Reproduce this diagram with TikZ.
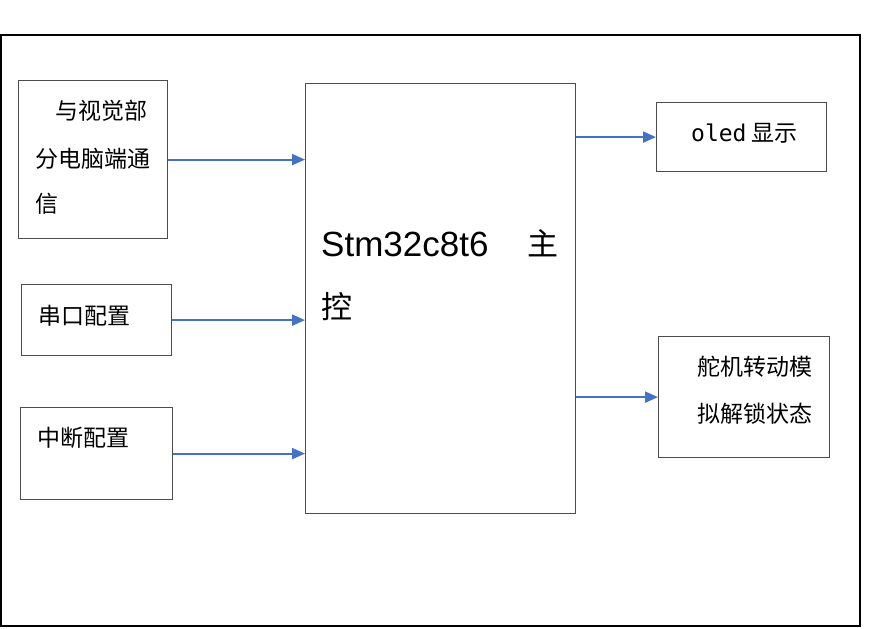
\documentclass[tikz,border=0pt]{standalone}
\usepackage{fontspec}
\setmainfont{Liberation Sans}
\newfontfamily\cjk{Noto Sans CJK SC}
\newfontfamily\mono{DejaVu Sans Mono}
\usetikzlibrary{arrows.meta}
\definecolor{linkblue}{RGB}{68,114,196}

\begin{document}
\begin{tikzpicture}[x=1pt, y=-1pt,
    blk/.style={draw=black!70, line width=1.2pt, inner sep=0pt, anchor=north west},
    txt/.style={anchor=west, inner sep=0pt, font=\cjk\fontsize{23}{23}\selectfont},
    link/.style={draw=linkblue, line width=2pt, -{Triangle[length=13pt,width=11pt]}}]
  \useasboundingbox (0,0) rectangle (886,629);
  \draw[line width=2pt] (1,35) rectangle (860,626);

  % blocks
  \node[blk, minimum width=149pt, minimum height=158pt] (vision) at (18,80) {};
  \node[blk, minimum width=150pt, minimum height=71pt] (uart) at (21,284) {};
  \node[blk, minimum width=152pt, minimum height=92pt] (irq) at (20,407) {};
  \node[blk, minimum width=270pt, minimum height=430pt] (mcu) at (305,83) {};
  \node[blk, minimum width=170pt, minimum height=69pt] (oled) at (656,102) {};
  \node[blk, minimum width=171pt, minimum height=121pt] (servo) at (658,336) {};

  % texts
  \node[txt] (vision1) at (55,111) {与视觉部};
  \node[txt] (vision2) at (35,159) {分电脑端通};
  \node[txt] (vision3) at (35,204) {信};
  \node[txt] (uartt) at (38,316) {串口配置};
  \node[txt] (irqt) at (37,438) {中断配置};
  \node[anchor=west, inner sep=0pt, font=\fontsize{35}{35}\selectfont] (mcu1) at (321,244) {Stm32c8t6};
  \node[txt, font=\cjk\fontsize{31}{31}\selectfont] (mcu2) at (527,243) {主};
  \node[txt, font=\cjk\fontsize{31}{31}\selectfont] (mcu3) at (321,307) {控};
  \node[txt] (oledt) at (691,133) {{\mono oled} 显示};
  \node[txt] (servo1) at (697,367) {舵机转动模};
  \node[txt] (servo2) at (697,414) {拟解锁状态};

  % links
  \draw[link] (vision.east) -- (vision.east -| mcu.west);
  \draw[link] (uart.east) -- (uart.east -| mcu.west);
  \draw[link] (irq.east) -- (irq.east -| mcu.west);
  \draw[link] (oled.west -| mcu.east) -- (oled.west);
  \draw[link] (servo.west -| mcu.east) -- (servo.west);
\end{tikzpicture}
\end{document}
